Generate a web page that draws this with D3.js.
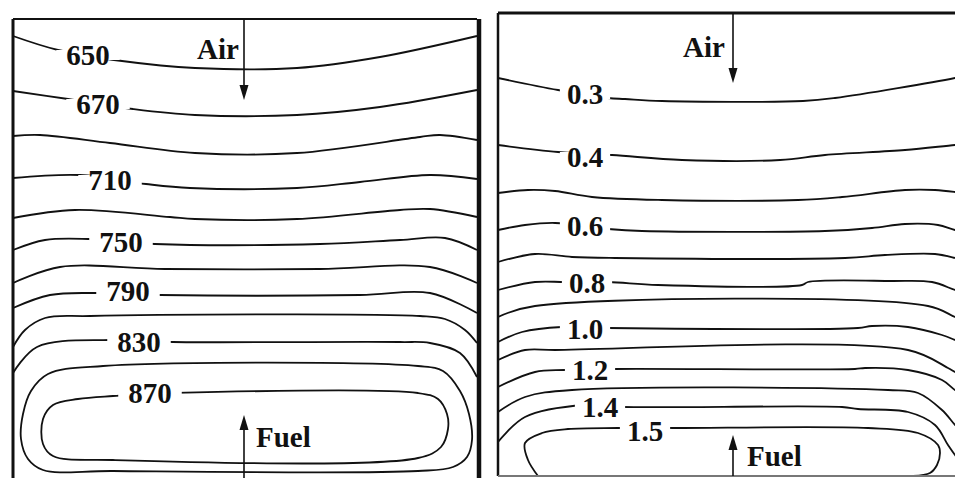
<!DOCTYPE html>
<html lang="en">
<head>
<meta charset="utf-8">
<title>Contours</title>
<script src="https://cdn.jsdelivr.net/npm/d3@7"></script>
<style>
  body { margin: 0; background: #fff; }
  svg { display: block; }
  text { font-family: "Liberation Serif", "Times New Roman", serif; font-weight: bold; fill: #111; }
</style>
</head>
<body>
<div id="chart"></div>
<script>
// ---- left panel: temperature (K), local units, x across, y down from top ----
const tempLevels = [650, 670, 690, 710, 730, 750, 770, 790, 810, 830, 850, 870];
const tempClosed = [false, false, false, false, false, false, false, false, false, false, true, true];
const tempPaths = [
  [[0,17],[45,31],[109,42],[182,49],[284,49],[367,38],[464,17]],
  [[0,72],[55,80],[120,90],[182,96],[284,96],[367,88],[464,71]],
  [[0,117],[27,116],[97,124],[182,134],[284,134],[407,118],[427,116],[464,121]],
  [[0,159],[67,156],[133,165],[177,169],[284,169],[347,163],[417,156],[464,160]],
  [[0,199],[62,191],[157,198],[182,200],[284,200],[387,191],[417,190],[464,198]],
  [[0,231],[32,221],[75,220],[142,225],[307,225],[387,221],[432,219],[464,231]],
  [[0,264],[47,248],[152,250],[307,250],[417,248],[464,264]],
  [[0,289],[37,276],[82,274],[147,276],[347,276],[417,274],[464,294]],
  [[0,328],[12,311],[32,299],[77,297],[407,297],[432,300],[452,311],[464,324]],
  [[0,354],[24,328],[97,321],[160,323],[387,323],[417,324],[447,334],[464,358]],
  [[90,347],[405,347],[430,352],[447,372],[456,395],[459,421],[454,438],[440,448],[405,452],[100,452],[30,451],[15,440],[8,420],[10,395],[18,372],[35,355]],
  [[100,377],[160,374],[405,374],[425,380],[434,395],[435,410],[428,428],[405,439],[100,441],[40,437],[30,425],[30,400],[40,386],[65,380]]
];
const tempLabels = [[75,36],[85,85],null,[97,161],null,[108,223],null,[115,272],null,[126,323],null,[137,374]];

// ---- right panel: ratio, same kind of local units ----
const ratioLevels = [0.3, 0.4, 0.5, 0.6, 0.7, 0.8, 0.9, 1.0, 1.1, 1.2, 1.3, 1.4, 1.5];
const ratioPaths = [
  [[0,65],[60,77],[110,85],[127,86],[164,88],[305,88],[337,85],[457,65],[470,62]],
  [[0,132],[60,139],[114,142],[184,147],[282,147],[327,142],[407,137],[457,132],[470,131]],
  [[0,180],[30,177],[57,178],[94,184],[164,187],[300,187],[344,184],[407,177],[437,177],[457,179],[470,181]],
  [[0,217],[27,212],[57,210],[110,216],[144,218],[327,218],[374,215],[407,211],[440,212],[457,217],[470,219]],
  [[0,249],[37,241],[74,244],[117,245],[347,245],[387,242],[437,241],[457,245],[470,249]],
  [[0,277],[37,269],[67,269],[110,269],[160,272],[304,272],[310,269],[394,268],[434,269],[457,277],[470,281]],
  [[0,304],[37,293],[430,293],[457,304],[470,309]],
  [[0,329],[24,319],[64,314],[110,315],[360,315],[374,313],[410,314],[444,322],[457,327],[470,333]],
  [[0,347],[27,337],[57,337],[410,337],[450,355],[457,359],[470,365]],
  [[0,374],[37,359],[67,357],[117,356],[357,356],[367,355],[410,357],[444,367],[457,377],[470,385]],
  [[0,399],[27,384],[74,377],[390,377],[420,380],[444,397],[457,412],[470,427]],
  [[0,429],[27,404],[87,392],[125,394],[344,394],[360,396],[410,399],[437,412],[450,432],[457,442],[470,457]],
  [[40,463],[30,447],[27,430],[44,420],[70,416],[120,415],[177,415],[370,415],[420,420],[440,432],[442,440],[439,452],[432,460],[415,463]]
];
const ratioLabels = [[87,81],[87,144],null,[87,213],null,[89,270],null,[87,316],null,[92,357],null,[102,394],[147,418]];

// flow arrows: [x, tip y, tail y] in local units, and text anchors
const leftArrows = [{ name: "Air", x: 231, tip: 81, tail: 0, tx: 205, ty: 30 },
                    { name: "Fuel", x: 231, tip: 396, tail: 459, tx: 243, ty: 418 }];
const rightArrows = [{ name: "Air", x: 235, tip: 70, tail: 0, tx: 207, ty: 34 },
                     { name: "Fuel", x: 235, tip: 422, tail: 463, tx: 249, ty: 443 }];

const svg = d3.select("#chart").append("svg")
  .attr("width", 955)
  .attr("height", 478);

function drawPanel(p) {
  const x = d3.scaleLinear().domain([0, p.w]).range([p.left, p.right]);
  const y = d3.scaleLinear().domain([0, p.h]).range([p.top, p.bottom]);
  const g = svg.append("g");

  const open = d3.line().x(d => x(d[0])).y(d => y(d[1])).curve(d3.curveCatmullRom.alpha(0.5));
  const loop = d3.line().x(d => x(d[0])).y(d => y(d[1])).curve(d3.curveCatmullRomClosed.alpha(0.5));

  p.paths.forEach(function (pts, i) {
    g.append("path")
      .attr("d", p.closed && p.closed[i] ? loop(pts) : open(pts))
      .attr("fill", "none")
      .attr("stroke", "#111")
      .attr("stroke-width", 1.8);
  });

  // labels sit on a white patch that cuts the line
  p.levels.forEach(function (lv, i) {
    const at = p.labels[i];
    if (!at) return;
    const t = g.append("text")
      .attr("x", x(at[0]))
      .attr("y", y(at[1]))
      .attr("dy", "0.35em")
      .attr("text-anchor", "middle")
      .style("font-size", "29px")
      .text(p.fmt(lv));
    const bb = t.node().getBBox();
    g.insert("rect", () => t.node())
      .attr("x", bb.x - p.pad)
      .attr("y", y(at[1]) - 5)
      .attr("width", bb.width + 2 * p.pad)
      .attr("height", 10)
      .attr("fill", "#fff");
  });

  // frame
  p.frame.forEach(function (f) {
    g.append("line")
      .attr("x1", x(f[0])).attr("y1", y(f[1]))
      .attr("x2", x(f[2])).attr("y2", y(f[3]))
      .attr("stroke", f[5] || "#111")
      .attr("stroke-width", f[4]);
  });

  // arrows
  p.arrows.forEach(function (a) {
    const down = a.tip > a.tail;
    const head = 15, half = 4.5;
    const tx = x(a.x), ty = y(a.tip);
    g.append("line")
      .attr("x1", tx).attr("y1", y(a.tail))
      .attr("x2", tx).attr("y2", down ? ty - head + 1 : ty + head - 1)
      .attr("stroke", "#111").attr("stroke-width", 1.6);
    const s = down ? -1 : 1;
    g.append("path")
      .attr("d", `M${tx},${ty}L${tx - half},${ty + s * head}L${tx + half},${ty + s * head}Z`)
      .attr("fill", "#111");
    g.append("text")
      .attr("x", x(a.tx)).attr("y", y(a.ty))
      .attr("dy", "0.35em")
      .style("font-size", "29px")
      .text(a.name);
  });
}

drawPanel({
  left: 13, right: 477, top: 19, bottom: 478, w: 464, h: 459, pad: 10,
  levels: tempLevels, paths: tempPaths, closed: tempClosed, labels: tempLabels,
  fmt: d => d3.format("d")(d),
  frame: [[0, 0, 0, 459, 3], [0, 0, 464, 0, 2], [466, 0, 466, 459, 4.5]],
  arrows: leftArrows.map(a => Object.assign({}, a, { tx: a.name === "Air" ? 184 : a.tx }))
});

drawPanel({
  left: 498, right: 968, top: 13, bottom: 476, w: 470, h: 463, pad: 7,
  levels: ratioLevels, paths: ratioPaths, closed: null, labels: ratioLabels,
  fmt: d => d3.format(".1f")(d),
  frame: [[0, 0, 0, 463, 2.5], [0, 0, 470, 0, 3], [0, 463, 470, 463, 2, "#777"]],
  arrows: rightArrows.map(a => Object.assign({}, a, { tx: a.name === "Air" ? 185 : a.tx }))
});
</script>
</body>
</html>
